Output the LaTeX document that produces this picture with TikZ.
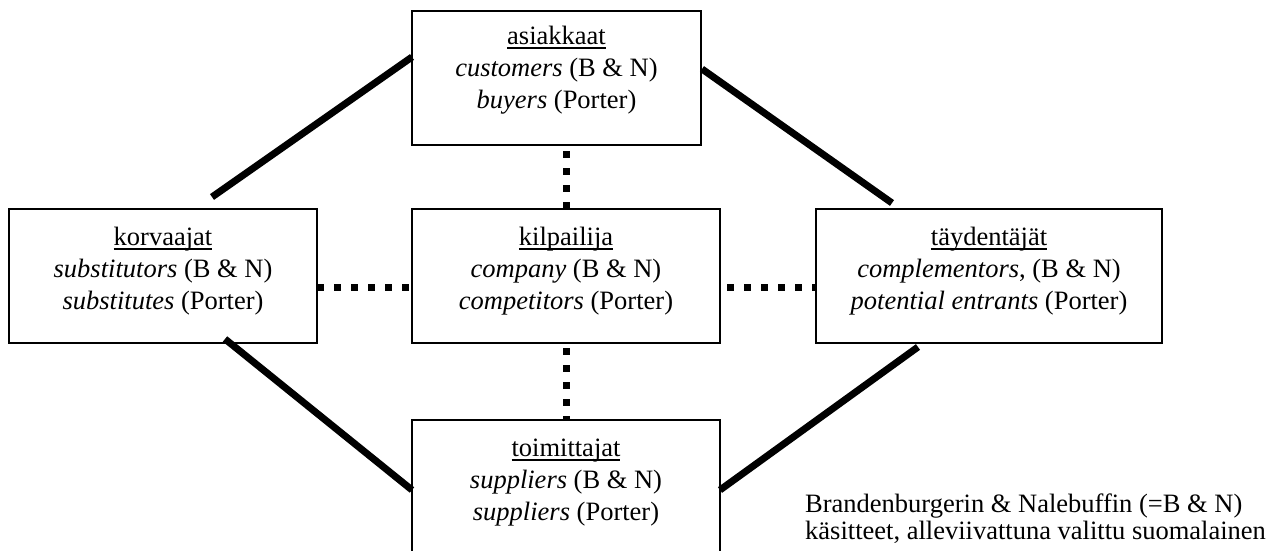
\documentclass[tikz,border=0pt]{standalone}
\usepackage{fontspec}
\setmainfont{Liberation Serif}
\usetikzlibrary{calc}

% word underline at a fixed depth, crossing descenders like a word processor does
\newcommand\wordul[1]{\setbox0\hbox{#1}\rlap{\rule[-4.5pt]{\wd0}{1.8pt}}\box0}

\tikzset{
  box/.style={draw, line width=1.3pt, inner sep=0pt, outer sep=0pt, minimum height=134},
  boxtext/.style={align=center, anchor=north, inner sep=0pt,
    font={\fontsize{26.5}{32}\selectfont}},
  strongtie/.style={line width=7pt, line cap=butt},
  weaktie/.style={line width=7pt, line cap=butt, dash pattern=on 7pt off 10pt},
}

\begin{document}
\begin{tikzpicture}[x=1pt, y=-1pt]
\useasboundingbox (0,0) rectangle (1277,551);

% the five parties
\node[box, minimum width=289] (top) at (556.5,78)  {};
\node[box, minimum width=308] (lft) at (163,276)   {};
\node[box, minimum width=308] (mid) at (566,276)   {};
\node[box, minimum width=346] (rgt) at (989,276)   {};
\node[box, minimum width=308] (bot) at (566,487)   {};

% labels: Finnish term (underlined), then B & N and Porter terms
\node[boxtext] (toptext) at (556.5,21.6)
  {\strut\wordul{asiakkaat}\\\strut\textit{customers} (B \& N)\\\strut\textit{buyers} (Porter)};
\node[boxtext] (lfttext) at (163,222.6)
  {\strut\wordul{korvaajat}\\\strut\textit{substitutors} (B \& N)\\\strut\textit{substitutes} (Porter)};
\node[boxtext] (midtext) at (566,222.6)
  {\strut\wordul{kilpailija}\\\strut\textit{company} (B \& N)\\\strut\textit{competitors} (Porter)};
\node[boxtext] (rgttext) at (989,222.6)
  {\strut\wordul{täydentäjät}\\\strut\textit{complementors}, (B \& N)\\\strut\textit{potential entrants} (Porter)};
\node[boxtext] (bottext) at (566,433.6)
  {\strut\wordul{toimittajat}\\\strut\textit{suppliers} (B \& N)\\\strut\textit{suppliers} (Porter)};

% solid ties around the outside
\draw[strongtie] ($(lft.north west)+(203,-12)$) -- ($(top.west)+(0,-21)$);
\draw[strongtie] ($(top.east)+(1,-9)$) -- ($(rgt.north west)+(76,-6)$);
\draw[strongtie] ($(lft.south west)+(216,-4)$) -- ($(bot.west)+(0,3)$);
\draw[strongtie] ($(bot.east)+(0,3)$) -- ($(rgt.south west)+(102,4)$);

% dotted ties to the company in the centre
\draw[weaktie, dash phase=11pt] (mid.north |- top.south) -- (mid.north);
\draw[weaktie, dash phase=12pt] (mid.south) -- (mid.south |- bot.north);
\draw[weaktie] ($(lft.east)+(0,11)$) -- ($(mid.west)+(0,11)$);
\draw[weaktie, dash phase=10pt] ($(mid.east)+(0,11)$) -- ($(rgt.west)+(0,11)$);

% note
\node[align=left, anchor=north west, inner sep=0pt,
      font={\fontsize{26.5}{26}\selectfont}] (note) at (805,493.8)
  {\strut Brandenburgerin \& Nalebuffin (=B \& N)\\\strut käsitteet, alleviivattuna valittu suomalainen};
\end{tikzpicture}
\end{document}
